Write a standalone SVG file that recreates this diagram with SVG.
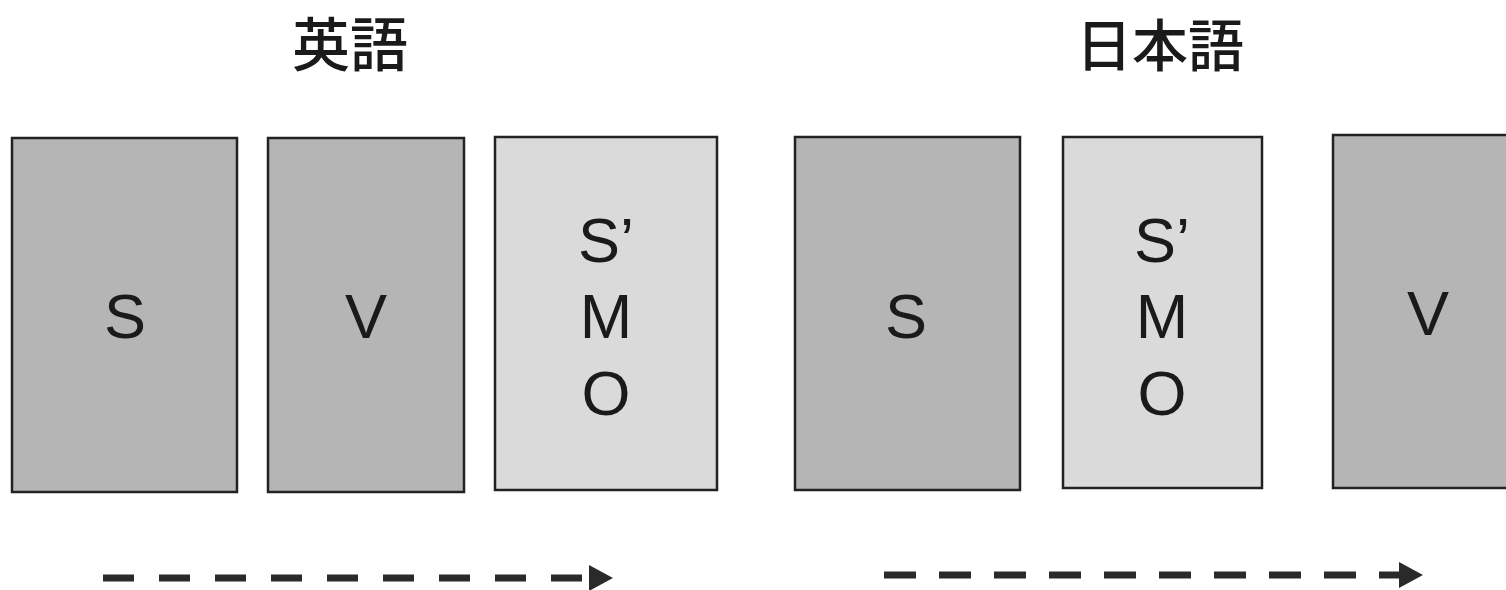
<svg xmlns="http://www.w3.org/2000/svg" width="1506" height="590" viewBox="0 0 1506 590">
<style>
.dark{fill:#b5b5b5;stroke:#222;stroke-width:2.5}
.light{fill:#dadada;stroke:#222;stroke-width:2.5}
.lbl{font-family:"Liberation Sans",Arial,sans-serif;font-size:63px;fill:#1a1a1a;text-anchor:middle}
.title{font-family:"Noto Sans CJK JP","Noto Sans CJK SC",sans-serif;font-size:58px;font-weight:500;fill:#1a1a1a;text-anchor:middle}
.dash{stroke:#2a2a2a;stroke-width:7;fill:none}
</style>
<defs>
<marker id="ah" markerWidth="24" markerHeight="26" refX="0" refY="13" orient="auto" markerUnits="userSpaceOnUse">
<path d="M0,0 L24,13 L0,26 Z" fill="#2a2a2a"/>
</marker>
</defs>
<g id="title-en"><text class="title" x="350" y="66">英語</text></g>
<g id="title-ja"><text class="title" x="1160" y="66" style="font-size:56px">日本語</text></g>
<g id="en-S"><rect class="dark" x="12" y="138" width="225" height="354"/><text class="lbl" x="125" y="338">S</text></g>
<g id="en-V"><rect class="dark" x="268" y="138" width="196" height="354"/><text class="lbl" x="366" y="338">V</text></g>
<g id="en-SMO"><rect class="light" x="495" y="137" width="222" height="353"/><text class="lbl" x="606" y="262">S’</text><text class="lbl" x="606" y="338">M</text><text class="lbl" x="606" y="415">O</text></g>
<g id="ja-S"><rect class="dark" x="795" y="137" width="225" height="353"/><text class="lbl" x="906" y="338">S</text></g>
<g id="ja-SMO"><rect class="light" x="1063" y="137" width="199" height="351"/><text class="lbl" x="1162" y="262">S’</text><text class="lbl" x="1162" y="338">M</text><text class="lbl" x="1162" y="415">O</text></g>
<g id="ja-V"><rect class="dark" x="1333" y="135" width="180" height="353"/><text class="lbl" x="1428" y="335">V</text></g>
<g id="connectors">
<path class="dash" d="M103,578 H589" stroke-dasharray="31 25" marker-end="url(#ah)"/>
<path class="dash" d="M884,575 H1399" stroke-dasharray="32 23" marker-end="url(#ah)"/>
</g>
</svg>
